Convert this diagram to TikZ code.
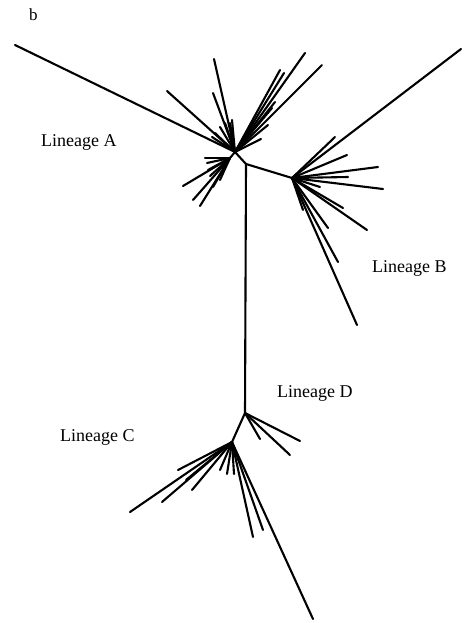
\documentclass[tikz,border=0pt]{standalone}
\usepackage{fontspec}
\setmainfont{Liberation Serif}
\begin{document}
\begin{tikzpicture}[x=1pt,y=-1pt,
  branch/.style={line width=2.1pt,line cap=round,black},
  lineage/.style={font=\fontsize{18}{20}\selectfont,anchor=base west,inner sep=0pt}]
\useasboundingbox (0,0) rectangle (466,623);
% internal nodes of the tree
\coordinate (hubA) at (235,152);
\coordinate (subA) at (230,158);
\coordinate (kink) at (246,164);
\coordinate (hubB) at (292,178);
\coordinate (hubD) at (245,413);
\coordinate (hubC) at (232,442);
% backbone
\draw[branch] (hubA) -- (kink) -- (hubB);
\draw[branch] (kink) -- (hubD) -- (hubC);
\draw[branch] (hubA) -- (subA);
% lineage A
\foreach \p in {(15,45),(167,91),(214,59),(213,93),(212,137),(215,133),(220,127),
  (225,123),(230,123),(232,120),(305,53),(322,65),(280,70),(284,73),(275,102),
  (272,108),(261,139),(268,125)}
  \draw[branch] (hubA) -- \p;
\foreach \p in {(205,158),(207,163),(208,170),(183,186),(193,200),(200,206),
  (213,187),(220,180),(210,176)}
  \draw[branch] (subA) -- \p;
% lineage B
\foreach \p in {(461,49),(335,137),(347,155),(378,167),(348,177),(383,189),
  (320,187),(343,208),(367,230),(328,228),(338,262),(357,325),(303,210)}
  \draw[branch] (hubB) -- \p;
% lineage D
\foreach \p in {(260,439),(290,455),(300,441)}
  \draw[branch] (hubD) -- \p;
% lineage C
\foreach \p in {(130,512),(162,502),(178,470),(192,490),(186,480),(220,470),
  (227,474),(234,474),(253,537),(263,530),(313,619)}
  \draw[branch] (hubC) -- \p;
% labels
\node[font=\fontsize{17}{19}\selectfont,anchor=base west,inner sep=0pt] (panel) at (29,21) {b};
\node[lineage] (labA) at (41,146) {Lineage A};
\node[lineage] (labB) at (372,272) {Lineage B};
\node[lineage] (labC) at (60,441) {Lineage C};
\node[lineage] (labD) at (277,397) {Lineage D};
\end{tikzpicture}
\end{document}
